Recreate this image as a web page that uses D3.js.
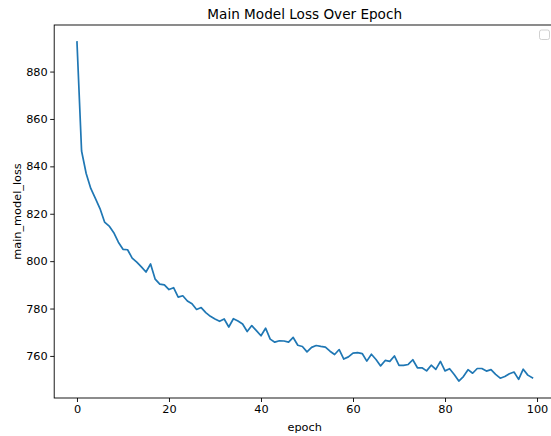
<!DOCTYPE html>
<html>
<head>
<meta charset="utf-8">
<script src="https://cdn.jsdelivr.net/npm/d3@7"></script>
<style>
  html, body { margin: 0; padding: 0; background: #fff; overflow: hidden; }
  svg { display: block; font-family: "DejaVu Sans", sans-serif; }
</style>
</head>
<body>
<svg id="chart" width="551" height="436"></svg>
<script>
// Main model loss recorded at the end of each training epoch
const epochs = d3.range(0, 100);
const mainModelLoss = [
  892.5, 846.5, 837.0, 830.7, 826.5, 822.2, 816.5, 814.8, 812.0, 808.0,
  805.0, 804.8, 801.3, 799.6, 797.6, 795.4, 798.8, 792.4, 790.3, 790.0,
  788.0, 788.8, 784.8, 785.4, 783.2, 782.0, 779.6, 780.4, 778.3, 776.7,
  775.6, 774.6, 775.6, 772.2, 775.7, 774.7, 773.5, 770.3, 772.8, 770.7,
  768.5, 771.7, 767.1, 765.8, 766.4, 766.3, 765.8, 767.8, 764.5, 764.0,
  761.7, 763.6, 764.4, 764.0, 763.7, 762.0, 760.6, 762.7, 758.7, 759.6,
  761.2, 761.4, 761.0, 757.8, 760.7, 758.5, 755.8, 758.1, 757.7, 760.0,
  756.0, 756.0, 756.4, 758.4, 755.0, 755.0, 753.7, 756.1, 754.3, 757.7,
  753.7, 754.6, 752.2, 749.4, 751.3, 754.2, 752.7, 754.7, 754.7, 753.6,
  754.2, 752.2, 750.6, 751.3, 752.5, 753.2, 750.1, 754.4, 751.9, 750.8
];
const xTickValues = [0, 20, 40, 60, 80, 100];
const yTickValues = [760, 780, 800, 820, 840, 860, 880];

const chartTitle = "Main Model Loss Over Epoch";
const xLabel = "epoch";
const yLabel = "main_model_loss";

// plot area (the right edge runs slightly past the canvas)
const plot = { left: 54.2, right: 555.2, top: 25, bottom: 398 };

// 5% padding around the data range on both axes
function padded(ext) {
  const m = (ext[1] - ext[0]) * 0.05;
  return [ext[0] - m, ext[1] + m];
}

const x = d3.scaleLinear()
  .domain(padded(d3.extent(epochs)))
  .range([plot.left, plot.right]);
const y = d3.scaleLinear()
  .domain(padded(d3.extent(mainModelLoss)))
  .range([plot.bottom, plot.top]);

const svg = d3.select("#chart");

// loss curve
const line = d3.line()
  .x((d, i) => x(epochs[i]))
  .y(d => y(d));

svg.append("path")
  .datum(mainModelLoss)
  .attr("fill", "none")
  .attr("stroke", "#1f77b4")
  .attr("stroke-width", 1.7)
  .attr("stroke-linejoin", "round")
  .attr("stroke-linecap", "square")
  .attr("d", line);

// axes
const xAxis = d3.axisBottom(x)
  .tickValues(xTickValues)
  .tickSize(4)
  .tickPadding(2.5)
  .tickSizeOuter(0);
const yAxis = d3.axisLeft(y)
  .tickValues(yTickValues)
  .tickSize(4)
  .tickPadding(2.5)
  .tickSizeOuter(0);

const gx = svg.append("g")
  .attr("transform", `translate(0,${plot.bottom})`)
  .call(xAxis);
const gy = svg.append("g")
  .attr("transform", `translate(${plot.left},0)`)
  .call(yAxis);

[gx, gy].forEach(g => {
  g.select(".domain").remove();
  g.selectAll(".tick line").attr("stroke", "#000").attr("stroke-width", 0.9);
  g.selectAll(".tick text")
    .attr("fill", "#000")
    .style("font-family", "DejaVu Sans, sans-serif")
    .style("font-size", "11.3px");
});

// frame around the plot area
svg.append("rect")
  .attr("x", plot.left)
  .attr("y", plot.top)
  .attr("width", plot.right - plot.left)
  .attr("height", plot.bottom - plot.top)
  .attr("fill", "none")
  .attr("stroke", "#000")
  .attr("stroke-width", 0.9);

// empty legend frame in the upper right corner
svg.append("rect")
  .attr("x", 539.5)
  .attr("y", 30)
  .attr("width", 10)
  .attr("height", 9.5)
  .attr("rx", 2)
  .attr("fill", "#fff")
  .attr("fill-opacity", 0.8)
  .attr("stroke", "#cccccc")
  .attr("stroke-width", 0.9);

// title and axis labels
svg.append("text")
  .attr("x", (plot.left + plot.right) / 2)
  .attr("y", 18.5)
  .attr("text-anchor", "middle")
  .style("font-size", "13.6px")
  .attr("fill", "#000")
  .text(chartTitle);

svg.append("text")
  .attr("x", (plot.left + plot.right) / 2)
  .attr("y", 431)
  .attr("text-anchor", "middle")
  .style("font-size", "11.3px")
  .attr("fill", "#000")
  .text(xLabel);

svg.append("text")
  .attr("transform", `translate(21,${(plot.top + plot.bottom) / 2}) rotate(-90)`)
  .attr("text-anchor", "middle")
  .style("font-size", "11.3px")
  .attr("fill", "#000")
  .text(yLabel);
</script>
</body>
</html>
